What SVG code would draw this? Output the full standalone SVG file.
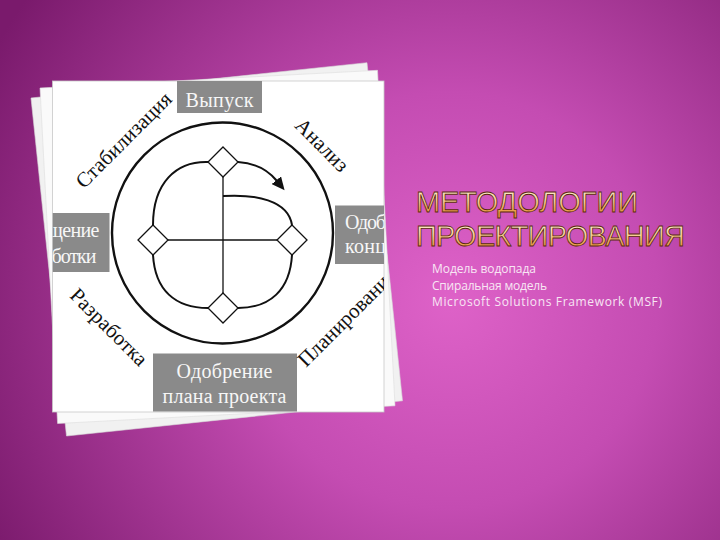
<svg xmlns="http://www.w3.org/2000/svg" width="720" height="540" viewBox="0 0 720 540">
<defs>
  <radialGradient id="bg" gradientUnits="userSpaceOnUse" cx="450" cy="300" r="520">
    <stop offset="0" stop-color="#de62c8"/>
    <stop offset="0.4" stop-color="#c44cb2"/>
    <stop offset="1" stop-color="#7a1a6c"/>
  </radialGradient>
  <linearGradient id="tg" x1="0" y1="0" x2="0" y2="1">
    <stop offset="0" stop-color="#fff6e2"/>
    <stop offset="0.45" stop-color="#f8d29a"/>
    <stop offset="0.85" stop-color="#e8923a"/>
    <stop offset="1" stop-color="#e8923a"/>
  </linearGradient>
  <clipPath id="pic"><rect x="52.5" y="81" width="331.5" height="331"/></clipPath>
  <marker id="ah" markerUnits="userSpaceOnUse" markerWidth="14" markerHeight="12" refX="1" refY="6" orient="auto">
    <path d="M0,0 L13,6 L0,12 z" fill="#111"/>
  </marker>
</defs>
<style>
  .box{fill:#8a8a8a}
  .bt{font-family:"Liberation Serif","Times New Roman",serif;font-size:20px;fill:#f7f7f7}
  .lbl{font-family:"Liberation Serif","Times New Roman",serif;font-size:21px;fill:#111}
  .dia{fill:#fff;stroke:#111;stroke-width:1.3}
  .cv{fill:none;stroke:#111;stroke-width:2}
  .ln{stroke:#111;stroke-width:1.3}
  .title{font-family:"Liberation Sans","Arial",sans-serif;font-size:29px;fill:url(#tg);stroke:#5a2a0e;stroke-width:0.8}
  .sub{font-family:"Open Sans","Noto Sans",sans-serif;font-size:12px;fill:#f8e6f4}
</style>

<rect x="0" y="0" width="720" height="540" fill="url(#bg)"/>

<!-- paper sheets -->
<g id="sheets">
  <polygon points="31,98 367,62.7 402.5,400.8 66.5,436" fill="#f1f1f1" stroke="#d9d9d9" stroke-width="0.6"/>
  <polygon points="40,88 377.5,70.3 395,405.8 57.6,423.5" fill="#fafafa" stroke="#dddddd" stroke-width="0.6"/>
  <rect x="52.5" y="81" width="331.5" height="331" fill="#ffffff" stroke="#c8c8c8" stroke-width="0.8"/>
</g>

<!-- connectors -->
<g id="connectors">
  <circle cx="222.5" cy="233" r="110.5" fill="none" stroke="#111" stroke-width="2.4"/>
  <line class="ln" x1="223" y1="177" x2="223" y2="293"/>
  <line class="ln" x1="168" y1="240" x2="277" y2="240"/>
  <path class="cv" d="M208,162 C176,161 153,183 153,225"/>
  <path class="cv" d="M153,255 C155,290 175,308 208,308"/>
  <path class="cv" d="M238,308 C270,308 290,290 292,255"/>
  <path class="cv" d="M223,196 C255,194 288,200 292,225"/>
  <path class="cv" d="M238,162 C254,163 268,170 277,181" marker-end="url(#ah)"/>
</g>

<!-- diamonds -->
<g id="diamond-top"><polygon class="dia" points="223,147 238,162 223,177 208,162"/></g>
<g id="diamond-left"><polygon class="dia" points="153,225 168,240 153,255 138,240"/></g>
<g id="diamond-right"><polygon class="dia" points="292,225 307,240 292,255 277,240"/></g>
<g id="diamond-bottom"><polygon class="dia" points="223,293 238,308 223,323 208,308"/></g>

<!-- milestone boxes -->
<g id="release">
  <rect class="box" x="177" y="81" width="85" height="32"/>
  <text class="bt" x="219.5" y="106.5" text-anchor="middle" textLength="68">Выпуск</text>
</g>
<g id="approve-plan">
  <rect class="box" x="153" y="353.5" width="144" height="58"/>
  <text class="bt" x="224.5" y="378" text-anchor="middle" textLength="96">Одобрение</text>
  <text class="bt" x="224.5" y="403" text-anchor="middle" textLength="124">плана проекта</text>
</g>
<g id="complete-dev" clip-path="url(#pic)">
  <rect class="box" x="52.5" y="213" width="57" height="59"/>
  <text class="bt" x="99.5" y="237" text-anchor="end" textLength="52">щение</text>
  <text class="bt" x="96.5" y="262.5" text-anchor="end" textLength="45">ботки</text>
</g>
<g id="approve-concept" clip-path="url(#pic)">
  <rect class="box" x="335" y="205.5" width="49" height="58.5"/>
  <text class="bt" x="345" y="228.5" textLength="41">Одоб</text>
  <text class="bt" x="345" y="253" textLength="41">конц</text>
</g>

<!-- phase labels -->
<g id="stabilization">
  <text class="lbl" transform="translate(123.5,140) rotate(-45)" text-anchor="middle" dominant-baseline="central" textLength="126">Стабилизация</text>
</g>
<g id="analysis">
  <text class="lbl" transform="translate(322,145) rotate(45)" text-anchor="middle" dominant-baseline="central" textLength="66">Анализ</text>
</g>
<g id="development">
  <text class="lbl" transform="translate(109,327) rotate(45)" text-anchor="middle" dominant-baseline="central" textLength="100">Разработка</text>
</g>
<g id="planning" clip-path="url(#pic)">
  <text class="lbl" transform="translate(306,368) rotate(-45)">Планировани</text>
</g>

<!-- title and list -->
<g id="title">
  <text class="title" x="416" y="212" textLength="222">МЕТОДОЛОГИИ</text>
  <text class="title" x="416" y="246" textLength="269">ПРОЕКТИРОВАНИЯ</text>
</g>
<g id="list">
  <text class="sub" x="432" y="273" textLength="104">Модель водопада</text>
  <text class="sub" x="432" y="289.5" textLength="115">Спиральная модель</text>
  <text class="sub" x="432" y="306" textLength="230">Microsoft Solutions Framework (MSF)</text>
</g>
</svg>
